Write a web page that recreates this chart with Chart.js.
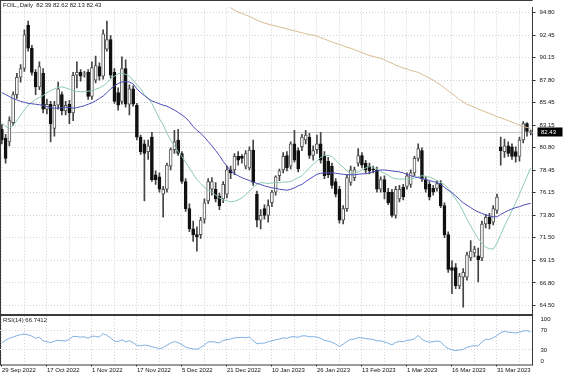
<!DOCTYPE html>
<html><head><meta charset="utf-8">
<style>
html,body{margin:0;padding:0;background:#fff;overflow:hidden}
#wrap{position:relative;width:564px;height:376px;background:#fff}
canvas{position:absolute;left:0;top:0}
</style>
<script src="https://cdn.jsdelivr.net/npm/chart.js@4/dist/chart.umd.min.js"></script>
</head><body>
<div id="wrap"><canvas id="main" width="564" height="376"></canvas><canvas id="rsi" width="564" height="376"></canvas></div>
<script>
const symbolTitle = "FOIL,,Daily";
const dateLabels = ["29 Sep 2022","17 Oct 2022","1 Nov 2022","17 Nov 2022","5 Dec 2022","21 Dec 2022","10 Jan 2023","26 Jan 2023","13 Feb 2023","1 Mar 2023","16 Mar 2023","31 Mar 2023"];
const priceTicks = [94.80,92.45,90.15,87.80,85.45,83.15,80.80,78.45,76.15,73.80,71.50,69.15,66.80,64.50];
const rsiTicks = [100,70,30,0];
const rsiLabel = "RSI(14) 66.7412";

const opens = [82.7,81.8,81.4,83.4,86.3,88.1,89.0,93.5,91.1,88.6,
87.1,88.5,84.8,85.3,82.8,85.2,86.3,84.6,85.3,84.4,
88.3,88.6,88.4,88.6,86.1,87.8,89.2,88.2,91.0,92.0,
88.6,86.5,85.6,89.0,85.3,86.9,85.2,81.9,81.2,80.4,
81.9,78.0,77.8,76.0,76.5,78.9,80.6,81.6,80.2,77.3,
74.5,72.4,71.8,71.8,73.4,75.3,76.5,76.5,75.8,75.5,
76.0,78.5,78.5,79.9,79.9,78.9,78.7,80.55,76.0,73.3,
74.5,73.8,75.1,76.2,77.9,78.5,80.0,78.9,81.2,80.5,
80.9,81.6,81.9,80.0,80.6,81.2,80.0,79.4,78.9,77.3,
76.5,73.3,74.5,77.2,77.7,79.2,80.0,79.2,78.9,78.6,
78.5,76.5,77.5,76.2,76.2,73.8,75.5,76.7,76.8,77.0,
78.2,79.7,80.5,77.5,77.0,76.6,76.6,77.1,74.8,71.8,
68.4,68.4,66.5,67.4,67.4,69.4,69.9,69.6,69.4,72.9,
73.6,73.1,74.3,80.9,80.4,81.0,80.9,80.4,79.9,81.6,
83.3,82.39];
const highs = [83.2,82.2,84.0,86.6,88.5,89.4,93.0,93.9,91.4,88.9,
89.7,89.0,85.8,85.6,85.6,87.6,86.6,85.6,85.7,88.6,
89.7,88.9,88.7,88.9,89.7,90.3,89.6,93.0,93.9,92.4,
89.0,87.0,90.2,89.9,87.3,87.2,85.4,82.1,81.6,81.6,
82.4,78.4,78.2,76.8,79.2,80.8,82.6,82.7,80.4,77.6,
75.0,73.2,72.6,73.6,75.5,77.6,77.7,77.2,76.1,77.3,
78.9,78.9,80.2,80.4,80.1,80.5,80.9,81.6,76.3,74.4,
74.9,75.4,76.4,77.9,78.6,80.3,80.4,81.4,82.6,80.8,
82.2,82.6,82.3,81.0,82.1,82.4,80.4,79.8,79.2,77.6,
76.8,74.8,78.0,78.9,78.8,80.7,80.3,79.5,79.2,78.9,
78.8,77.8,77.9,76.6,76.5,76.8,76.9,77.0,78.2,78.5,
79.9,81.2,80.8,77.8,77.3,76.9,77.4,77.4,75.1,72.1,
69.1,68.8,67.8,68.3,70.0,71.2,70.6,70.4,73.2,73.9,
74.0,74.8,76.0,81.9,81.7,81.4,81.2,80.9,81.9,83.5,
83.4,82.62];
const lows = [81.2,79.2,81.0,83.1,85.9,87.6,88.7,90.8,88.3,86.3,
86.8,84.4,84.3,81.4,82.0,84.8,84.2,84.2,83.3,83.6,
87.0,87.7,88.1,85.8,85.8,87.5,87.8,87.9,90.8,88.0,
85.4,84.7,85.3,85.0,84.2,85.1,81.6,80.1,75.3,79.6,
77.3,77.0,76.2,73.6,76.2,78.5,80.2,80.0,77.1,74.2,
72.1,71.1,70.1,71.4,73.0,75.0,75.9,75.2,74.4,75.1,
75.6,77.6,78.0,79.0,79.2,78.6,78.5,76.9,72.6,72.4,
73.4,73.1,74.7,75.9,77.4,78.2,78.4,78.6,79.3,78.3,
80.5,81.2,79.7,79.5,80.2,79.2,77.6,77.7,76.6,75.7,
73.0,72.9,74.2,76.9,77.4,78.9,78.7,78.2,78.1,78.2,
76.2,76.2,75.5,74.9,73.6,73.5,75.2,75.4,76.5,76.7,
77.9,79.4,77.3,76.2,75.4,75.9,76.3,74.6,71.5,67.9,
65.7,66.2,66.2,64.3,67.1,69.1,69.5,66.9,69.1,72.5,
72.4,72.8,74.0,79.0,79.8,79.9,79.6,79.3,79.4,81.3,
82.0,82.13];
const closes = [81.6,79.7,83.6,86.3,88.1,89.0,92.5,91.1,88.6,87.1,
89.2,84.8,85.3,83.3,85.2,86.9,84.6,85.2,84.4,88.3,
88.6,88.2,88.45,86.1,89.1,89.3,88.2,92.6,92.0,88.3,
85.6,85.2,89.0,85.3,86.9,85.3,81.9,80.4,80.2,81.0,
77.5,77.5,76.5,76.5,79.0,80.6,81.4,80.2,77.3,74.5,
72.4,71.8,71.6,73.3,75.1,77.3,77.3,75.5,74.8,77.0,
78.5,78.2,79.9,79.5,79.7,80.2,80.55,77.2,73.3,73.8,
73.8,74.8,76.2,77.8,78.4,79.9,78.7,81.2,79.5,78.6,
81.9,82.1,80.0,80.5,81.2,79.5,77.9,78.0,76.9,76.0,
73.3,74.5,77.7,78.5,78.5,80.0,79.0,78.5,78.4,78.5,
76.5,77.5,76.2,75.1,73.8,76.5,76.5,75.7,77.9,78.2,
79.7,80.7,77.6,76.5,75.7,76.2,77.1,74.8,71.8,68.2,
68.1,66.5,67.5,67.9,69.7,70.1,70.3,69.2,72.9,73.6,
72.9,74.5,75.7,80.5,81.0,80.2,79.9,79.9,81.6,83.3,
82.5,82.43];

const maFast = [83.4,83.0,82.8,83.1,83.6,84.2,84.7,85.2,85.5,85.8,
86.0,86.2,86.5,86.7,86.9,87.05,87.1,87.0,86.85,86.7,
86.6,86.6,86.6,86.65,86.7,86.85,87.0,87.2,87.5,87.9,
88.2,88.45,88.5,88.4,88.2,87.8,87.3,86.9,86.3,85.9,
85.4,84.6,83.8,83.2,82.3,81.6,81.0,80.4,79.9,79.3,
78.7,78.1,77.5,77.1,76.7,76.4,76.2,75.9,75.6,75.4,
75.3,75.2,75.25,75.4,75.6,75.9,76.3,76.7,77.0,77.2,
77.15,77.1,77.15,77.2,77.2,77.25,77.25,77.3,77.5,77.7,
77.9,78.3,78.7,79.1,79.4,79.8,80.0,80.0,79.9,79.5,
79.1,78.8,78.4,78.1,78.1,78.3,78.5,78.7,78.85,78.8,
78.6,78.35,78.15,77.95,77.7,77.6,77.55,77.55,77.55,77.55,
77.65,77.8,77.9,77.85,77.75,77.6,77.4,77.2,77.0,76.6,
76.0,75.5,74.9,74.2,73.4,72.7,72.0,71.4,70.9,70.5,
70.35,70.3,70.9,71.8,72.7,73.5,74.3,75.1,76.0,76.9,
77.8,78.7];
const maSlow = [86.5,86.3,86.1,85.9,85.75,85.6,85.5,85.4,85.35,85.3,
85.25,85.2,85.05,84.95,84.9,84.9,84.95,85.0,84.95,84.9,
84.95,85.05,85.15,85.3,85.45,85.65,85.9,86.15,86.5,86.9,
87.2,87.45,87.6,87.65,87.6,87.4,86.9,86.5,86.2,85.9,
85.65,85.5,85.35,85.2,85.1,84.9,84.7,84.45,84.2,83.9,
83.5,83.0,82.6,82.3,81.9,81.45,81.0,80.5,80.0,79.4,
78.9,78.4,78.1,77.9,77.7,77.55,77.4,77.25,77.1,77.0,
76.85,76.75,76.65,76.6,76.5,76.45,76.4,76.5,76.65,76.85,
77.0,77.3,77.55,77.8,78.05,78.15,78.2,78.2,78.2,78.15,
78.1,78.05,78.0,78.0,78.0,78.05,78.1,78.1,78.2,78.3,
78.4,78.5,78.5,78.45,78.4,78.35,78.3,78.2,78.05,77.9,
77.8,77.7,77.6,77.5,77.4,77.3,77.2,77.0,76.7,76.4,
76.15,75.8,75.45,75.1,74.85,74.6,74.35,74.15,74.0,73.85,
73.75,73.65,73.65,73.9,74.1,74.3,74.45,74.6,74.7,74.85,
74.95,75.05];
const ma200 = [null,null,null,null,null,null,null,null,null,null,
null,null,null,null,null,null,null,null,null,null,
null,null,null,null,null,null,null,null,null,null,
null,null,null,null,null,null,null,null,null,null,
null,null,null,null,null,null,null,null,null,null,
null,null,null,null,null,null,null,96.0,95.85,95.65,
95.45,95.3,95.05,94.85,94.7,94.55,94.4,94.2,94.0,93.85,
93.7,93.6,93.5,93.4,93.3,93.2,93.1,93.0,92.9,92.8,
92.7,92.6,92.5,92.45,92.35,92.2,92.05,91.9,91.75,91.6,
91.5,91.35,91.2,91.1,90.95,90.8,90.65,90.5,90.35,90.25,
90.15,90.05,89.9,89.7,89.55,89.35,89.2,89.05,88.95,88.8,
88.7,88.6,88.4,88.2,88.0,87.8,87.55,87.3,87.0,86.7,
86.4,86.1,85.8,85.55,85.3,85.15,85.0,84.8,84.65,84.5,
84.35,84.2,84.0,83.9,83.75,83.6,83.45,83.3,83.15,83.0,
82.9,82.8];
const rsi14 = [45,50,54,56.7,59.5,61.5,63,61,58.5,54,
56,49,47,45,48,50,49,48.5,52,58,
57.5,56.5,57,54,58.5,58,56.5,63.7,60,55,
48,47.5,51,47,49,45,39.5,38.5,40,39,
36.5,35,32,35,40,44,47.5,45,41,36,
33.5,32,31.4,35,40,46.5,47,46,44.5,49.6,
51.5,52.5,55,55.5,56,55,56.7,49,42.6,44,
44,47,48.5,51,52.5,55,54,57,57.5,56,
59,59,57,57.5,56.5,54,49.6,48.5,46,42,
37,42,47.5,52,52.5,55.5,55,53.5,52.5,51.5,
48.5,49,46.5,44,40.5,45.5,47.5,47,50,50.5,
53,60,52,48,46,47,48.5,47,38,33,
30,28.5,30,31,35.6,37.5,39,38,47,52,
51.5,55,59.5,66,68.5,66.5,66,65,66.5,69,
70,66.7];

const N = closes.length;
const cats = closes.map((_, i) => String(i));
const bodies = opens.map((o, i) => {
  let lo = Math.min(o, closes[i]), hi = Math.max(o, closes[i]);
  if (hi - lo < 0.06) { const m = (hi + lo) / 2; lo = m - 0.03; hi = m + 0.03; }
  return [lo, hi];
});
const bodyColors = opens.map((o, i) => closes[i] >= o ? '#ffffff' : '#111111');
const bodyBorders = opens.map((o, i) => closes[i] >= o ? '#555555' : '#111111');
const wicks = lows.map((l, i) => [l, highs[i]]);
const bidPrice = closes[N - 1];

const FONT = {family: "'Liberation Sans', Arial, sans-serif", size: 6};
const GRID = '#d2d2d2';
const PLOT_RIGHT = 532.6;
const AXIS_W = 564 - PLOT_RIGHT;
const Y_TOP_VAL = 95.307, Y_BOT_VAL = 63.587;

const mainDeco = {
  id: 'mainDeco',
  beforeDatasetsDraw(chart) {
    const {ctx, chartArea: a, scales: {y}} = chart;
    const yb = Math.round(y.getPixelForValue(bidPrice)) + 0.5;
    ctx.save();
    ctx.strokeStyle = '#c4c4c4'; ctx.lineWidth = 1;
    ctx.beginPath(); ctx.moveTo(a.left, yb); ctx.lineTo(a.right, yb); ctx.stroke();
    ctx.restore();
  },
  afterDraw(chart) {
    const {ctx, chartArea: a, scales: {y}} = chart;
    ctx.save();
    ctx.fillStyle = '#3a3a3a';
    ctx.fillRect(0, 0, a.right, 1);
    ctx.fillRect(0, 0, 1, 365);
    ctx.fillRect(0, a.bottom, a.right + 0.5, 2);
    const yb = y.getPixelForValue(bidPrice);
    ctx.fillStyle = '#000';
    ctx.fillRect(537.5, yb - 4.5, 25, 9);
    ctx.fillStyle = '#fff';
    ctx.font = "6px 'Liberation Sans', Arial, sans-serif";
    ctx.textBaseline = 'middle'; ctx.textAlign = 'left';
    ctx.fillText(bidPrice.toFixed(2), 541, yb + 0.5);
    ctx.fillStyle = '#222';
    const o = opens[N-1], h = highs[N-1], l = lows[N-1], c = closes[N-1];
    ctx.fillText(symbolTitle + '  ' + [o, h, l, c].map(v => v.toFixed(2)).join(' '), 3, 5.5);
    ctx.restore();
  }
};

new Chart(document.getElementById('main'), {
  type: 'bar',
  data: {
    labels: cats,
    datasets: [
      {type: 'line', data: maSlow, borderColor: '#4b4bb8', borderWidth: 1, pointRadius: 0, tension: 0, order: 0},
      {type: 'line', data: maFast, borderColor: '#8ccbb3', borderWidth: 1, pointRadius: 0, tension: 0, order: 0},
      {type: 'line', data: ma200, borderColor: '#d8bb92', borderWidth: 1, pointRadius: 0, tension: 0, order: 0},
      {type: 'bar', data: bodies, backgroundColor: bodyColors, borderColor: bodyBorders, borderWidth: 1, borderSkipped: false, barThickness: 3, grouped: false, order: 1},
      {type: 'bar', data: wicks, backgroundColor: '#444', borderWidth: 0, barThickness: 1, grouped: false, order: 2}
    ]
  },
  options: {
    responsive: false, animation: false, devicePixelRatio: 1,
    layout: {padding: {top: 1, left: 0, right: 0, bottom: 0}},
    plugins: {legend: {display: false}, tooltip: {enabled: false}},
    scales: {
      x: {
        offset: true,
        grid: {offset: false, drawTicks: false, lineWidth: 1,
               color: c => (c.index % 6 === 0 ? GRID : 'rgba(0,0,0,0)')},
        border: {display: false, dash: [1, 2]},
        ticks: {display: false, autoSkip: false},
        afterFit: s => { s.height = 62; }
      },
      y: {
        position: 'right', min: Y_BOT_VAL, max: Y_TOP_VAL,
        afterBuildTicks: s => { s.ticks = priceTicks.map(v => ({value: v})); },
        ticks: {font: FONT, color: '#111', padding: 4, callback: v => Number(v).toFixed(2)},
        grid: {color: GRID, tickColor: '#333', tickLength: 3, lineWidth: 1},
        border: {display: true, color: '#3a3a3a', width: 1, dash: [1, 2]},
        afterFit: s => { s.width = AXIS_W; }
      }
    }
  },
  plugins: [mainDeco]
});

const rsiDeco = {
  id: 'rsiDeco',
  afterDraw(chart) {
    const {ctx, chartArea: a, scales: {y}} = chart;
    ctx.save();
    ctx.fillStyle = '#3a3a3a';
    ctx.fillRect(0, Math.round(a.bottom) - 0.5, a.right + 0.5, 1);
    ctx.font = "6px 'Liberation Sans', Arial, sans-serif";
    ctx.textBaseline = 'middle'; ctx.textAlign = 'left';
    ctx.fillStyle = '#111';
    rsiTicks.forEach(v => {
      let py = y.getPixelForValue(v);
      py = Math.max(a.top + 3, Math.min(a.bottom - 3.5, py));
      ctx.fillText(String(v), 540.5, py);
    });
    ctx.fillStyle = '#222';
    ctx.fillText(rsiLabel, 3, a.top + 4.5);
    ctx.restore();
  }
};

new Chart(document.getElementById('rsi'), {
  type: 'line',
  data: {labels: cats, datasets: [
    {data: rsi14, borderColor: '#7db0e2', borderWidth: 1, pointRadius: 0, tension: 0}
  ]},
  options: {
    responsive: false, animation: false, devicePixelRatio: 1,
    layout: {padding: {top: 316, left: 0, right: 0, bottom: 0}},
    plugins: {legend: {display: false}, tooltip: {enabled: false}},
    scales: {
      x: {
        offset: true,
        grid: {offset: false, drawTicks: true, tickLength: 2, lineWidth: 1,
               color: c => (c.index % 6 === 0 ? GRID : 'rgba(0,0,0,0)'),
               tickColor: c => (c.index % 12 === 0 ? '#333' : 'rgba(0,0,0,0)')},
        border: {display: false, dash: [1, 2]},
        ticks: {font: FONT, color: '#111', autoSkip: false, maxRotation: 0, minRotation: 0,
                align: 'start', padding: 0,
                callback: (v, i) => (i % 12 === 0 ? (dateLabels[i / 12] || '') : '')},
        afterFit: s => { s.height = 11.5; }
      },
      y: {
        position: 'right', min: 0, max: 100,
        afterBuildTicks: s => { s.ticks = rsiTicks.map(v => ({value: v})); },
        ticks: {display: false},
        grid: {drawTicks: false, lineWidth: 1,
               color: c => (c.tick && (c.tick.value === 30 || c.tick.value === 70) ? GRID : 'rgba(0,0,0,0)')},
        border: {display: true, color: '#3a3a3a', width: 1, dash: [1, 2]},
        afterFit: s => { s.width = AXIS_W; }
      }
    }
  },
  plugins: [rsiDeco]
});
</script>
</body></html>
